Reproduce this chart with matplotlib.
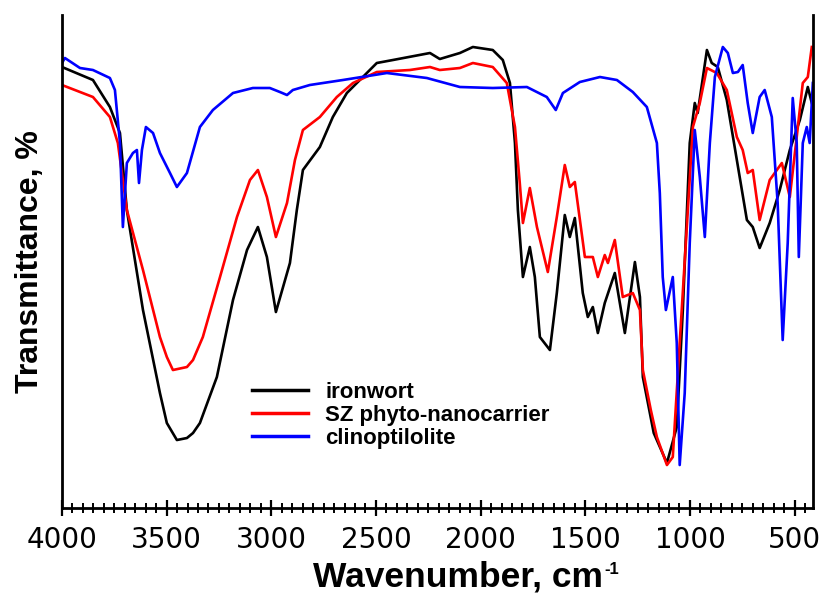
import numpy as np
import matplotlib
matplotlib.use('Agg')
import matplotlib.pyplot as plt
from matplotlib.ticker import MultipleLocator

plt.rcParams['font.family'] = ['Liberation Sans', 'DejaVu Sans']

# FTIR spectra (wavenumber in cm-1, transmittance in arbitrary units)
ironwort_wn = [4000, 3852, 3771, 3723, 3690, 3613, 3532, 3499, 3451, 3403, 3374, 3341, 3260,
               3183, 3116, 3064, 3021, 2978, 2911, 2878, 2849, 2768, 2706, 2639, 2577, 2496,
               2419, 2242, 2195, 2099, 2037, 1942, 1894, 1860, 1836, 1822, 1798, 1765, 1741,
               1717, 1669, 1636, 1598, 1574, 1550, 1512, 1488, 1464, 1440, 1407, 1359, 1311,
               1263, 1239, 1225, 1173, 1110, 1063, 1034, 1001, 977, 963, 919, 896, 867, 824,
               776, 728, 700, 667, 619, 571, 523, 475, 437, 418]
ironwort_t = [441, 428, 401, 375, 298, 198, 115, 85, 68, 70, 75, 85, 131,
              208, 258, 281, 251, 196, 245, 298, 338, 361, 391, 415, 428, 445,
              448, 455, 449, 455, 461, 458, 448, 425, 365, 298, 231, 261, 231,
              171, 158, 215, 293, 271, 290, 215, 191, 201, 175, 205, 235, 175,
              246, 211, 131, 75, 45, 81, 198, 365, 405, 395, 458, 445, 441, 408,
              348, 288, 281, 260, 285, 318, 358, 388, 421, 405]

sz_wn = [4000, 3852, 3771, 3733, 3690, 3613, 3532, 3499, 3470, 3403, 3374, 3327, 3245,
         3164, 3102, 3064, 3021, 2978, 2925, 2887, 2849, 2768, 2687, 2610, 2496, 2338,
         2242, 2195, 2099, 2037, 1942, 1875, 1836, 1813, 1798, 1765, 1731, 1679, 1636,
         1598, 1574, 1550, 1502, 1464, 1440, 1407, 1392, 1359, 1321, 1273, 1239, 1225,
         1187, 1158, 1110, 1082, 1049, 1015, 986, 953, 919, 872, 824, 776, 748, 724,
         700, 667, 619, 561, 523, 490, 461, 437, 418]
sz_t = [423, 411, 391, 365, 298, 238, 171, 151, 138, 141, 148, 171, 231,
        291, 328, 338, 311, 271, 305, 348, 378, 391, 411, 425, 436, 438,
        441, 438, 440, 445, 441, 425, 381, 325, 285, 320, 281, 236, 291,
        343, 321, 326, 251, 251, 231, 253, 245, 268, 211, 215, 198, 138,
        98, 71, 43, 51, 165, 281, 381, 405, 440, 435, 418, 371, 358, 335,
        338, 288, 328, 345, 311, 371, 425, 431, 461]

clino_wn = [4000, 3986, 3914, 3852, 3771, 3747, 3723, 3709, 3690, 3661, 3642, 3632, 3618,
            3599, 3565, 3532, 3484, 3451, 3403, 3341, 3279, 3183, 3088, 3007, 2959, 2925,
            2897, 2816, 2658, 2448, 2257, 2099, 1942, 1779, 1684, 1641, 1607, 1526, 1430,
            1349, 1273, 1206, 1158, 1144, 1130, 1115, 1082, 1063, 1049, 1025, 1001, 977,
            953, 929, 905, 881, 843, 819, 795, 771, 748, 724, 700, 667, 643, 609, 581,
            557, 533, 509, 490, 480, 461, 442, 428, 413]
clino_t = [445, 450, 440, 438, 430, 418, 365, 281, 345, 355, 358, 325, 358,
           381, 375, 355, 335, 321, 335, 381, 398, 415, 420, 420, 416, 413,
           418, 423, 428, 435, 430, 421, 420, 421, 411, 398, 415, 426, 431,
           428, 416, 401, 365, 315, 231, 198, 231, 165, 43, 115, 265, 378,
           331, 271, 365, 431, 461, 455, 435, 436, 443, 405, 375, 411, 418, 391, 305,
           168, 265, 410, 365, 251, 365, 381, 365, 425]

labels = ['ironwort', 'SZ phyto-nanocarrier', 'clinoptilolite']
colors = ['black', 'red', 'blue']

fig = plt.figure(figsize=(8.24, 5.93), dpi=100)
ax = fig.add_axes([0.0752, 0.1433, 0.9115, 0.8314])

for wn, t, lab, c in zip([ironwort_wn, sz_wn, clino_wn], [ironwort_t, sz_t, clino_t], labels, colors):
    ax.plot(wn, t, color=c, lw=1.9, label=lab, solid_joinstyle='round')

ax.set_xlim(4000, 412)
ax.set_ylim(0, 493)
ax.xaxis.set_major_locator(MultipleLocator(500))
ax.xaxis.set_minor_locator(MultipleLocator(50))
ax.set_yticks([])

ax.spines['top'].set_visible(False)
for s in ['left', 'right', 'bottom']:
    ax.spines[s].set_linewidth(2.0)

ax.tick_params(axis='x', which='major', direction='inout', length=12, width=1.6,
               labelsize=20, pad=7)
ax.tick_params(axis='x', which='minor', direction='inout', length=7, width=1.4)
for lbl in ax.get_xticklabels():
    lbl.set_family('DejaVu Sans')

ax.set_xlabel('Wavenumber, cm', fontsize=25.5, fontweight='bold')
ax.xaxis.set_label_coords(0.527, -0.1582)
ax.xaxis.label.set_va('baseline')
ax.set_ylabel('Transmittance, %', fontsize=23, fontweight='bold', labelpad=12)

leg = ax.legend(loc='upper left', bbox_to_anchor=(0.253, 0.256), frameon=False,
                prop={'weight': 'bold', 'size': 16}, handlelength=2.5, handletextpad=0.8,
                labelspacing=0.1, borderpad=0, borderaxespad=0)
for line in leg.get_lines():
    line.set_linewidth(2.5)

# small superscript "-1" right after the x label
fig.canvas.draw()
bb = ax.xaxis.label.get_window_extent()
fig.text((bb.x1 + 2) / fig.bbox.width, 1 - 562 / 593, '-1', fontsize=12,
         fontweight='bold', ha='left', va='top')

fig.savefig('out.png', dpi=100)
